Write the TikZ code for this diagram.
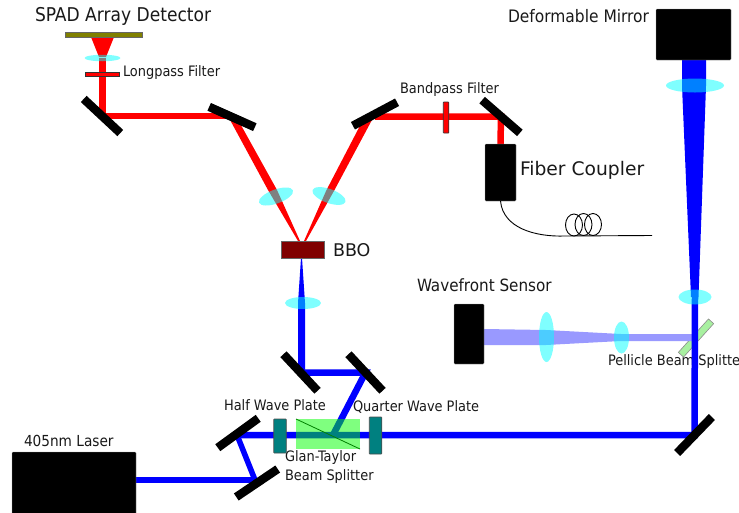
\documentclass[tikz,border=0pt]{standalone}
\usepackage{fontspec}
\setmainfont{DejaVu Sans Condensed}
\newfontfamily\widefont{DejaVu Sans}
\usetikzlibrary{shapes.geometric}
\definecolor{sensorolive}{HTML}{808000}
\definecolor{crystal}{HTML}{800000}
\definecolor{plate}{HTML}{008080}
\definecolor{pickoff}{HTML}{9999FF}
\definecolor{pellicle}{HTML}{A8F0A0}
\definecolor{lensfill}{RGB}{0,255,255}
\newcommand{\smalltag}{\fontsize{14.4}{16}\selectfont}
\newcommand{\bigtag}{\fontsize{19}{20}\selectfont}
\pgfdeclarelayer{beams}
\pgfsetlayers{beams,main}
\tikzset{
 every node/.append style={inner sep=0pt,outer sep=0pt},
 tag/.style={anchor=west,font=\smalltag,text=black!90},
 bigtagnode/.style={anchor=west,font=\bigtag,text=black!90},
 widetag/.style={anchor=west,font=\widefont\fontsize{18.7}{20}\selectfont,text=black!90},
 mirror/.style={fill=black,minimum width=50pt,minimum height=8.5pt},
 blackbox/.style={fill=black,draw=black!40,line width=.4pt,rounded corners=.8pt},
 lens/.style={ellipse,fill=lensfill,fill opacity=.5},
 platebox/.style={fill=plate,draw=black!70,line width=.6pt,minimum width=12.5pt,rounded corners=.5pt},
 redbeam/.style={draw=red,line width=6.5pt},
 bluebeam/.style={draw=blue,line width=6.5pt},
 redcone/.style={fill=red},
 bluecone/.style={fill=blue},
 redfilter/.style={fill=red,draw=black!80,line width=.7pt},
 fiber/.style={draw=black,line width=.9pt},
 fiberloop/.style={fiber,ellipse,minimum width=17pt,minimum height=22pt},
}
\begin{document}
\begin{tikzpicture}[x=1pt,y=-1pt]

\useasboundingbox (0,0) rectangle (739,512);
\begin{pgfonlayer}{beams}
\node[bigtagnode] (spadtag) at (35,16) {SPAD Array Detector};
\node[tag] (longtag) at (123,72.5) {Longpass Filter};
\node[tag] (bandtag) at (400,90) {Bandpass Filter};
\node[tag,font=\fontsize{17.2}{18}\selectfont] (dmtag) at (508,16) {Deformable Mirror};
\node[widetag] (fibertag) at (520,170) {Fiber Coupler};
\node[widetag,font=\widefont\fontsize{17.5}{18}\selectfont] (bbotag) at (333,250) {BBO};
\node[tag,font=\fontsize{16.9}{18}\selectfont] (wavetag) at (417,285) {Wavefront Sensor};
\node[tag] (pellicletag) at (608,362) {Pellicle Beam Splitter};
\node[tag] (halftag) at (224,405) {Half Wave Plate};
\node[tag] (quartertag) at (353,407) {Quarter Wave Plate};
\node[tag] (glantag) at (285,458) {Glan-Taylor};
\node[tag] (splittertag) at (285,477) {Beam Splitter};
\node[tag,font=\fontsize{15.2}{18}\selectfont] (lasertag) at (24,441) {405nm Laser};
\end{pgfonlayer}

\node[blackbox,minimum width=124pt,minimum height=62pt] (laser) at (74,483) {};
\node[blackbox,minimum width=75pt,minimum height=51pt] (dm) at (693.5,34.5) {};
\node[blackbox,minimum width=31pt,minimum height=57pt] (coupler) at (500.5,172.5) {};
\node[blackbox,minimum width=30pt,minimum height=60pt] (sensor) at (469,334) {};

\coordinate (splitpoint) at (333,435);
\coordinate (turnF) at (237,435);
\coordinate (turnG) at (255,480);
\coordinate (fiberend) at (652,235.5);

\node[mirror,rotate=-43] (mirrorA) at (102,116) {};
\node[mirror,rotate=-24] (mirrorB) at (232,117) {};
\node[mirror,rotate=28] (mirrorC) at (375,114) {};
\node[mirror,rotate=-41] (mirrorD) at (501,116.5) {};
\node[mirror,rotate=46] (mirrorE) at (694.5,435) {};
\node[mirror,rotate=36] (mirrorF) at (238,433) {};
\node[mirror,rotate=34] (mirrorG) at (257,483) {};
\node[mirror,rotate=-47] (mirrorH) at (300.5,372.5) {};
\node[mirror,rotate=-47] (mirrorI) at (365.5,372.5) {};

\node[lens,minimum width=36pt,minimum height=6.5pt] (lensS) at (102.5,58) {};
\node[lens,minimum width=36pt,minimum height=14pt,rotate=20] (lensL) at (276,196.5) {};
\node[lens,minimum width=35pt,minimum height=14pt,rotate=-20] (lensR) at (329,196) {};
\node[lens,minimum width=36pt,minimum height=12pt] (lensB) at (303,303) {};
\node[lens,minimum width=58pt,minimum height=14pt] (lensD) at (695,85.5) {};
\node[lens,minimum width=33pt,minimum height=15pt] (lensM) at (695,297) {};
\node[lens,minimum width=15pt,minimum height=50pt] (lensW) at (546.5,337) {};
\node[lens,minimum width=15pt,minimum height=32pt] (lensV) at (621.5,337.5) {};

\begin{pgfonlayer}{beams}
\node[fill=pellicle,draw=black!45,line width=.6pt,minimum width=45pt,minimum height=7pt,rotate=48] (pellicle) at (696,338) {};
\fill[redcone] (91,37) -- (114,37) -- (106,57) -- (99,57) -- cycle;
\fill[redcone] (229,118) -- (268,190) -- (298,241) -- (300,241) -- (277,190) -- (237,118) -- cycle;
\fill[redcone] (364,118) -- (326.5,190) -- (304,241) -- (306,241) -- (334.5,190) -- (373,118) -- cycle;
\fill[bluecone] (298,372) -- (298,303) -- (301,258) -- (302,258) -- (305,303) -- (305,372) -- cycle;
\fill[bluecone] (682,60) -- (706,60) -- (706,86) -- (698.5,297) -- (691,297) -- (682,86) -- cycle;
\fill[pickoff] (484,329) -- (546,330) -- (621,334) -- (692,334) -- (692,341) -- (621,341) -- (546,345) -- (484,345) -- cycle;
\draw[redbeam] (lensS.center) -- (lensS.center |- mirrorA.center) -- (mirrorA.center -| mirrorB.center);
\draw[redbeam] (mirrorC.center |- mirrorD.center) -- (mirrorD.center) -- (coupler.north);
\draw[bluebeam] (laser.east |- turnG) -- (turnG);
\draw[bluebeam,line width=5.5pt] (turnG) -- (turnF);
\draw[bluebeam] (turnF |- mirrorE.center) -- (mirrorE.center) -- (lensM.center);
\draw[bluebeam] (mirrorH.center) -- (mirrorI.center) -- (splitpoint);
\end{pgfonlayer}

\node[fill=sensorolive,draw=black!60,line width=.6pt,minimum width=77pt,minimum height=4.5pt] (spad) at (103.5,35) {};
\node[redfilter,minimum width=34pt,minimum height=4pt] (longpass) at (102,74) {};
\node[redfilter,rounded corners=.5pt,minimum width=5.5pt,minimum height=31pt] (bandpass) at (446,117.5) {};
\node[fill=crystal,draw=black!60,line width=.6pt,minimum width=43pt,minimum height=17pt] (bbo) at (302.5,249.5) {};
\node[platebox,minimum height=34pt] (halfplate) at (280,436) {};
\node[platebox,minimum height=37pt] (quarterplate) at (375.5,435.5) {};
\node[fill=green,fill opacity=.5,minimum width=64pt,minimum height=30pt] (glan) at (328,434) {};
\draw[draw=black!50!green,line width=.8pt] (glan.north west) -- (glan.south east);

\draw[fiber] (coupler.south) .. controls (503,228) and (535,237) .. (565,236) -- (fiberend);
\node[fiberloop] (loopA) at (574,225) {};
\node[fiberloop] (loopB) at (583.5,224.5) {};
\node[fiberloop] (loopC) at (593,224.5) {};

\end{tikzpicture}
\end{document}
